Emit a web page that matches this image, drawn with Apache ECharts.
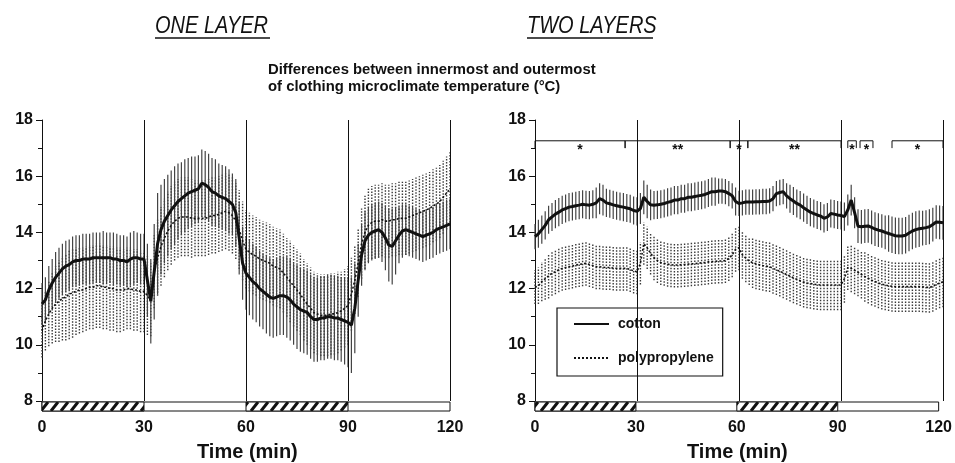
<!DOCTYPE html>
<html>
<head>
<meta charset="utf-8">
<script src="https://cdn.jsdelivr.net/npm/echarts@6/dist/echarts.min.js"></script>
<style>
  html, body { margin: 0; padding: 0; background: #fff; }
  #chart { width: 955px; height: 463px; }
</style>
</head>
<body>
<div id="chart"></div>
<script>
// minute-by-minute means and SD (one value per minute, 0..120)
const oneCottonMean = [
  11.45, 11.6, 11.95, 12.2, 12.4, 12.55, 12.7, 12.8, 12.85, 12.95,
  13.0, 13.0, 13.05, 13.05, 13.05, 13.1, 13.1, 13.1, 13.1, 13.1,
  13.1, 13.05, 13.05, 13.0, 13.0, 12.95, 13.05, 13.1, 13.1, 13.05,
  13.05, 12.3, 11.55, 12.6, 13.6, 14.1, 14.4, 14.6, 14.8, 14.95,
  15.1, 15.2, 15.3, 15.4, 15.45, 15.5, 15.55, 15.75, 15.7, 15.6,
  15.45, 15.4, 15.3, 15.25, 15.2, 15.1, 15.0, 14.7, 13.8, 12.9,
  12.55, 12.4, 12.25, 12.15, 12.0, 11.9, 11.8, 11.7, 11.65, 11.7,
  11.75, 11.75, 11.7, 11.6, 11.45, 11.35, 11.25, 11.2, 11.15, 11.0,
  10.9, 10.9, 10.95, 10.95, 11.0, 11.0, 10.95, 10.95, 10.9, 10.85,
  10.8, 10.7, 11.3, 12.3, 13.2, 13.7, 13.9, 14.0, 14.05, 14.1,
  14.0, 13.8, 13.55, 13.5, 13.7, 13.9, 14.05, 14.1, 14.05, 14.0,
  13.95, 13.9, 13.85, 13.9, 13.95, 14.0, 14.1, 14.15, 14.2, 14.25,
  14.3
];
const oneCottonSd = [
  0.75, 0.8, 0.85, 0.85, 0.9, 0.9, 0.9, 0.9, 0.9, 0.9,
  0.9, 0.9, 0.9, 0.9, 0.9, 0.9, 0.9, 0.9, 0.95, 0.9,
  0.9, 0.95, 0.9, 0.9, 0.9, 0.9, 0.95, 0.95, 0.9, 0.9,
  0.9, 1.3, 1.5, 1.7, 1.8, 1.6, 1.5, 1.45, 1.4, 1.4,
  1.35, 1.3, 1.3, 1.25, 1.25, 1.2, 1.2, 1.2, 1.2, 1.2,
  1.2, 1.2, 1.15, 1.15, 1.15, 1.15, 1.1, 1.2, 1.3, 1.3,
  1.3, 1.35, 1.35, 1.35, 1.35, 1.35, 1.4, 1.4, 1.4, 1.4,
  1.4, 1.4, 1.45, 1.45, 1.45, 1.5, 1.5, 1.5, 1.5, 1.5,
  1.5, 1.5, 1.5, 1.5, 1.5, 1.5, 1.5, 1.5, 1.5, 1.55,
  1.6, 1.7, 1.6, 1.3, 1.1, 1.05, 1.0, 1.0, 1.0, 1.0,
  1.05, 1.15, 1.3, 1.35, 1.2, 1.0, 0.95, 0.9, 0.9, 0.9,
  0.9, 0.9, 0.9, 0.9, 0.9, 0.9, 0.9, 0.9, 0.9, 0.9,
  0.9
];
const onePolyMean = [
  10.5, 10.85, 11.1, 11.3, 11.45, 11.55, 11.65, 11.7, 11.8, 11.85,
  11.9, 11.95, 11.95, 12.0, 12.05, 12.05, 12.1, 12.1, 12.05, 12.05,
  12.0, 12.0, 11.95, 11.95, 11.95, 12.0, 12.0, 11.95, 11.95, 11.9,
  11.9, 11.75, 11.6, 12.6, 13.1, 13.5, 13.8, 14.05, 14.25, 14.4,
  14.5, 14.55, 14.55, 14.55, 14.5, 14.5, 14.5, 14.5, 14.5, 14.55,
  14.6, 14.6, 14.65, 14.7, 14.75, 14.7, 14.6, 14.4, 14.1, 13.7,
  13.4, 13.3, 13.2, 13.15, 13.05, 13.0, 12.95, 12.9, 12.8, 12.75,
  12.7, 12.55, 12.4, 12.25, 12.1, 11.95, 11.8, 11.6, 11.45, 11.3,
  11.15, 11.1, 11.05, 11.05, 11.05, 11.1, 11.1, 11.15, 11.2, 11.3,
  11.4, 11.8, 12.3, 12.9, 13.6, 14.0, 14.25, 14.35, 14.4, 14.4,
  14.45, 14.4, 14.4, 14.45, 14.45, 14.5, 14.5, 14.5, 14.55, 14.6,
  14.65, 14.7, 14.75, 14.8, 14.85, 14.95, 15.0, 15.1, 15.25, 15.4,
  15.55
];
const onePolySd = [
  0.95, 1.05, 1.15, 1.25, 1.35, 1.45, 1.5, 1.55, 1.6, 1.6,
  1.55, 1.55, 1.5, 1.5, 1.5, 1.5, 1.5, 1.5, 1.5, 1.5,
  1.5, 1.5, 1.5, 1.5, 1.45, 1.45, 1.45, 1.45, 1.45, 1.45,
  1.45, 1.4, 1.3, 1.3, 1.35, 1.4, 1.4, 1.4, 1.4, 1.4,
  1.4, 1.4, 1.4, 1.4, 1.4, 1.35, 1.35, 1.35, 1.35, 1.35,
  1.35, 1.35, 1.35, 1.35, 1.35, 1.35, 1.35, 1.35, 1.4, 1.4,
  1.4, 1.4, 1.4, 1.4, 1.4, 1.4, 1.4, 1.4, 1.4, 1.4,
  1.4, 1.4, 1.4, 1.45, 1.45, 1.45, 1.45, 1.45, 1.45, 1.45,
  1.45, 1.45, 1.45, 1.45, 1.45, 1.45, 1.45, 1.45, 1.4, 1.4,
  1.4, 1.3, 1.2, 1.2, 1.25, 1.3, 1.3, 1.3, 1.3, 1.3,
  1.3, 1.3, 1.3, 1.3, 1.3, 1.3, 1.3, 1.3, 1.3, 1.3,
  1.3, 1.3, 1.3, 1.3, 1.3, 1.3, 1.3, 1.3, 1.3, 1.3,
  1.3
];
const twoCottonMean = [
  13.85, 13.95, 14.1, 14.25, 14.45, 14.55, 14.65, 14.72, 14.8, 14.85,
  14.9, 14.92, 14.95, 14.97, 15.0, 14.98, 14.97, 15.0, 15.05, 15.2,
  15.15, 15.05, 15.02, 14.98, 14.95, 14.92, 14.9, 14.87, 14.84, 14.78,
  14.75, 14.85, 15.25, 15.1, 14.98, 14.97, 14.98, 15.0, 15.03, 15.07,
  15.1, 15.15, 15.15, 15.2, 15.2, 15.25, 15.25, 15.28, 15.3, 15.32,
  15.35, 15.4, 15.45, 15.45, 15.47, 15.47, 15.45, 15.38, 15.3, 15.1,
  15.03, 15.05, 15.08, 15.08, 15.08, 15.09, 15.09, 15.1, 15.1, 15.12,
  15.2, 15.38, 15.42, 15.45, 15.3, 15.2, 15.12, 15.03, 14.97, 14.88,
  14.8, 14.72, 14.67, 14.62, 14.58, 14.5, 14.55, 14.67, 14.65, 14.62,
  14.6, 14.56, 14.8, 15.15, 14.7, 14.22, 14.2, 14.22, 14.23, 14.18,
  14.12, 14.08, 14.05, 14.0, 13.96, 13.92, 13.88, 13.87, 13.87, 13.9,
  13.98, 14.05, 14.1, 14.13, 14.15, 14.17, 14.2, 14.28, 14.37, 14.36,
  14.34
];
const twoCottonSd = [
  0.45, 0.5, 0.5, 0.5, 0.5, 0.5, 0.5, 0.5, 0.5, 0.5,
  0.5, 0.5, 0.5, 0.5, 0.5, 0.5, 0.5, 0.5, 0.55, 0.55,
  0.55, 0.5, 0.5, 0.5, 0.5, 0.5, 0.5, 0.5, 0.5, 0.5,
  0.5, 0.55, 0.6, 0.6, 0.55, 0.5, 0.5, 0.5, 0.5, 0.5,
  0.5, 0.5, 0.5, 0.5, 0.5, 0.5, 0.5, 0.5, 0.5, 0.5,
  0.5, 0.5, 0.5, 0.5, 0.45, 0.45, 0.45, 0.45, 0.45, 0.5,
  0.45, 0.45, 0.45, 0.45, 0.45, 0.45, 0.45, 0.45, 0.45, 0.45,
  0.45, 0.45, 0.45, 0.45, 0.45, 0.5, 0.5, 0.5, 0.5, 0.5,
  0.5, 0.5, 0.5, 0.5, 0.5, 0.5, 0.5, 0.5, 0.5, 0.5,
  0.5, 0.5, 0.55, 0.55, 0.55, 0.6, 0.6, 0.6, 0.6, 0.6,
  0.6, 0.6, 0.6, 0.6, 0.65, 0.65, 0.65, 0.65, 0.65, 0.65,
  0.65, 0.65, 0.65, 0.65, 0.62, 0.62, 0.62, 0.6, 0.6, 0.6,
  0.6
];
const twoPolyMean = [
  12.05, 12.1, 12.25, 12.35, 12.45, 12.55, 12.6, 12.67, 12.72, 12.75,
  12.78, 12.8, 12.84, 12.86, 12.88, 12.9, 12.86, 12.82, 12.78, 12.78,
  12.76, 12.75, 12.75, 12.73, 12.72, 12.72, 12.72, 12.72, 12.68, 12.63,
  12.6, 12.9, 13.6, 13.45, 13.25, 13.1, 13.0, 12.93, 12.9, 12.87,
  12.85, 12.84, 12.84, 12.85, 12.86, 12.87, 12.88, 12.89, 12.9, 12.92,
  12.93, 12.95, 12.96, 12.97, 12.98, 12.98, 13.0, 13.07, 13.2, 13.4,
  13.45, 13.2, 13.08, 12.98, 12.92, 12.88, 12.85, 12.82, 12.8, 12.78,
  12.72, 12.67, 12.62, 12.56, 12.5, 12.44, 12.38, 12.33, 12.28, 12.23,
  12.2, 12.18, 12.16, 12.14, 12.13, 12.13, 12.13, 12.13, 12.13, 12.13,
  12.13, 12.35, 12.75, 12.72, 12.65, 12.58, 12.5, 12.43, 12.37, 12.3,
  12.25, 12.2, 12.16, 12.13, 12.1, 12.08, 12.07, 12.07, 12.07, 12.07,
  12.07, 12.07, 12.07, 12.07, 12.06, 12.05, 12.04, 12.08, 12.15, 12.2,
  12.24
];
const twoPolySd = [
  0.6, 0.65, 0.7, 0.75, 0.8, 0.8, 0.8, 0.8, 0.8, 0.8,
  0.8, 0.8, 0.8, 0.8, 0.8, 0.8, 0.8, 0.8, 0.8, 0.8,
  0.8, 0.8, 0.8, 0.8, 0.8, 0.8, 0.8, 0.8, 0.8, 0.8,
  0.8, 0.75, 0.75, 0.75, 0.75, 0.8, 0.8, 0.8, 0.8, 0.8,
  0.8, 0.8, 0.8, 0.8, 0.8, 0.8, 0.8, 0.8, 0.8, 0.8,
  0.8, 0.8, 0.8, 0.8, 0.8, 0.8, 0.8, 0.8, 0.8, 0.8,
  0.8, 0.85, 0.85, 0.85, 0.9, 0.9, 0.9, 0.9, 0.9, 0.9,
  0.9, 0.9, 0.9, 0.9, 0.9, 0.9, 0.9, 0.9, 0.9, 0.9,
  0.9, 0.9, 0.9, 0.9, 0.9, 0.9, 0.9, 0.9, 0.9, 0.9,
  0.9, 0.85, 0.8, 0.85, 0.85, 0.85, 0.85, 0.9, 0.9, 0.9,
  0.9, 0.9, 0.9, 0.9, 0.9, 0.9, 0.9, 0.9, 0.9, 0.9,
  0.9, 0.9, 0.9, 0.9, 0.9, 0.9, 0.9, 0.9, 0.9, 0.9,
  0.9
];

const dividers = [30, 60, 90, 120];
const exercise = [[0, 30], [60, 90]];

// significance brackets, two layers panel
const sigStart = [0, 26.5, 57.4, 62.6, 92, 95.6, 105];
const sigEnd = [26.5, 57.4, 62.6, 90, 94.5, 99.4, 120];
const sigStars = ['*', '**', '*', '**', '*', '*', '*'];
const sigLevel = 17.26;
const sigTick = 17.0;

const FONT = '"Liberation Sans", Arial, Helvetica, sans-serif';
const INK = '#111';

let myChart = echarts.init(document.getElementById('chart'));

// hatching for the exercise periods
function hatchCanvas() {
  const c = document.createElement('canvas');
  c.width = 10;
  c.height = 9;
  const g = c.getContext('2d');
  g.fillStyle = '#fff';
  g.fillRect(0, 0, 10, 9);
  g.strokeStyle = INK;
  g.lineWidth = 3;
  [-10, 0, 10].forEach(function (dx) {
    g.beginPath();
    g.moveTo(dx + 1, 9);
    g.lineTo(dx + 8, 0);
    g.stroke();
  });
  return c;
}
const hatch = hatchCanvas();

function barData(mean, sd) {
  return mean.map(function (m, i) { return [i, m - sd[i], m + sd[i]]; });
}
function lineData(mean) {
  return mean.map(function (m, i) { return [i, m]; });
}

function errorBars(name, xi, mean, sd, color, width, dash) {
  return {
    type: 'custom',
    name: name,
    xAxisIndex: xi,
    yAxisIndex: xi,
    silent: true,
    encode: { x: 0, y: [1, 2] },
    data: barData(mean, sd),
    renderItem: function (params, api) {
      const a = api.coord([api.value(0), api.value(1)]);
      const b = api.coord([api.value(0), api.value(2)]);
      return {
        type: 'line',
        shape: { x1: a[0], y1: a[1], x2: b[0], y2: b[1] },
        style: { stroke: color, lineWidth: width, lineDash: dash }
      };
    }
  };
}

function strip(xi) {
  return {
    type: 'custom',
    xAxisIndex: xi,
    yAxisIndex: xi,
    silent: true,
    data: exercise,
    renderItem: function (params, api) {
      const a = api.coord([api.value(0), 1]);
      const b = api.coord([api.value(1), 0]);
      return {
        type: 'rect',
        shape: { x: a[0], y: a[1], width: b[0] - a[0], height: b[1] - a[1] },
        style: { fill: { image: hatch, repeat: 'repeat', x: 0, y: a[1] }, stroke: INK, lineWidth: 1 }
      };
    }
  };
}

function panelSeries(xi, stripIdx, cMean, cSd, pMean, pSd) {
  return [
    errorBars('polypropylene bars', xi, pMean, pSd, '#3a3a3a', 1.4, [1.5, 1.5]),
    errorBars('cotton bars', xi, cMean, cSd, '#444', 1.2, null),
    {
      type: 'line',
      name: 'polypropylene',
      xAxisIndex: xi,
      yAxisIndex: xi,
      symbol: 'none',
      silent: true,
      lineStyle: { color: INK, width: 1.6, type: [2, 2] },
      itemStyle: { color: INK },
      data: lineData(pMean)
    },
    {
      type: 'line',
      name: 'cotton',
      xAxisIndex: xi,
      yAxisIndex: xi,
      symbol: 'none',
      silent: true,
      lineStyle: { color: INK, width: 3 },
      itemStyle: { color: INK },
      data: lineData(cMean),
      markLine: {
        silent: true,
        symbol: ['none', 'none'],
        label: { show: false },
        lineStyle: { color: INK, type: 'solid', width: 1 },
        data: dividers.map(function (v) { return { xAxis: v }; })
      }
    },
    strip(stripIdx)
  ];
}

const sigSeries = {
  type: 'custom',
  xAxisIndex: 2,
  yAxisIndex: 2,
  silent: true,
  data: sigStart.map(function (s, i) { return [s, sigEnd[i]]; }),
  renderItem: function (params, api) {
    const a = api.coord([api.value(0), sigLevel]);
    const b = api.coord([api.value(1), sigLevel]);
    const t = api.coord([api.value(0), sigTick]);
    return {
      type: 'group',
      children: [
        {
          type: 'polyline',
          shape: { points: [[a[0], t[1]], [a[0], a[1]], [b[0], b[1]], [b[0], t[1]]] },
          style: { stroke: INK, lineWidth: 1, fill: null }
        },
        {
          type: 'text',
          style: {
            text: sigStars[params.dataIndex],
            x: (a[0] + b[0]) / 2,
            y: a[1] + 2,
            textAlign: 'center',
            textVerticalAlign: 'top',
            font: 'bold 14px ' + FONT,
            fill: INK
          }
        }
      ]
    };
  }
};

function mainX(gi) {
  return { type: 'value', gridIndex: gi, min: 0, max: 120, show: false };
}
function stripX(gi) {
  return {
    type: 'value', gridIndex: gi, min: 0, max: 120, interval: 30,
    axisLine: { show: false },
    axisTick: { show: false },
    splitLine: { show: false },
    axisLabel: { margin: 9, color: INK, fontSize: 16, fontWeight: 'bold', fontFamily: FONT, showMinLabel: true, showMaxLabel: true }
  };
}
function mainY(gi) {
  return {
    type: 'value', gridIndex: gi, min: 8, max: 18, interval: 2,
    axisLine: { show: true, lineStyle: { color: INK, width: 1 } },
    axisTick: { show: true, length: 6, lineStyle: { color: INK } },
    minorTick: { show: true, splitNumber: 2, length: 4, lineStyle: { color: INK } },
    splitLine: { show: false },
    axisLabel: { margin: 9, color: INK, fontSize: 16, fontWeight: 'bold', fontFamily: FONT }
  };
}
function stripY(gi) {
  return { type: 'value', gridIndex: gi, min: 0, max: 1, show: false };
}

function titleText(text, x, y, size, style, scale) {
  return {
    type: 'text',
    x: x, y: y,
    scaleX: scale,
    style: {
      text: text, x: 0, y: 0,
      textAlign: 'left', textVerticalAlign: 'middle',
      font: style + ' ' + size + 'px ' + FONT,
      fill: INK
    }
  };
}
function rule(x1, x2, y) {
  return {
    type: 'line',
    shape: { x1: x1, y1: y, x2: x2, y2: y },
    style: { stroke: INK, lineWidth: 1.5 }
  };
}

const option = {
  animation: false,
  backgroundColor: '#fff',
  grid: [
    { left: 42, top: 120, width: 408, height: 281 },
    { left: 42, top: 402, width: 408, height: 9, show: true, borderColor: INK, borderWidth: 1, backgroundColor: 'transparent' },
    { left: 535, top: 120, width: 408, height: 281 },
    { left: 535, top: 402, width: 408, height: 9, show: true, borderColor: INK, borderWidth: 1, backgroundColor: 'transparent' }
  ],
  xAxis: [mainX(0), stripX(1), mainX(2), stripX(3)],
  yAxis: [mainY(0), stripY(1), mainY(2), stripY(3)],
  legend: {
    data: ['cotton', 'polypropylene'],
    orient: 'vertical',
    left: 557,
    top: 308,
    itemWidth: 35,
    itemHeight: 14,
    itemGap: 20,
    padding: [9, 9, 11, 16],
    borderColor: INK,
    borderWidth: 1.2,
    selectedMode: false,
    itemStyle: { opacity: 0 },
    textStyle: { color: INK, fontSize: 14, fontWeight: 'bold', fontFamily: FONT, padding: [0, 0, 0, 4] }
  },
  graphic: [
    titleText('ONE LAYER', 155, 27, 23, 'italic', 0.87),
    rule(155, 270, 38),
    titleText('TWO LAYERS', 527, 27, 23, 'italic', 0.87),
    rule(527, 653, 38),
    titleText('Differences between innermost and outermost', 268, 70, 15, 'bold', 0.99),
    titleText('of clothing microclimate temperature (°C)', 268, 87, 15, 'bold', 0.99),
    titleText('Time (min)', 197, 452, 20, 'bold', 1),
    titleText('Time (min)', 687, 452, 20, 'bold', 1)
  ],
  series: []
    .concat(panelSeries(0, 1, oneCottonMean, oneCottonSd, onePolyMean, onePolySd))
    .concat(panelSeries(2, 3, twoCottonMean, twoCottonSd, twoPolyMean, twoPolySd))
    .concat([sigSeries])
};

myChart.setOption(option);
window.addEventListener('resize', myChart.resize);
</script>
</body>
</html>
